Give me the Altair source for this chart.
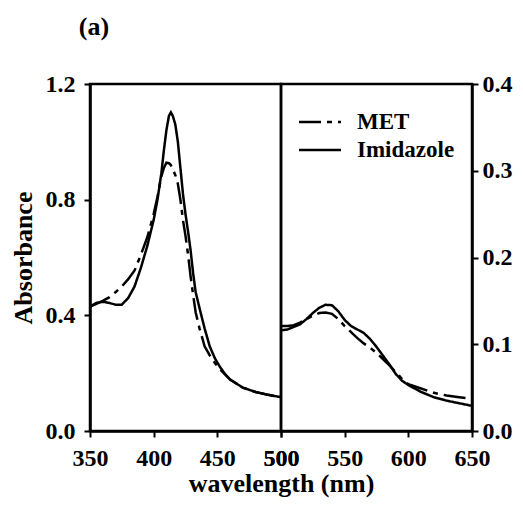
import altair as alt
import pandas as pd

# ---- data ----
wl_left = [350, 355, 360, 365, 370, 375, 380, 385, 390, 395, 400, 403, 406, 408, 410,
           412, 413.5, 415, 417, 419, 421, 423, 425, 427, 429, 431, 433, 436, 440, 444,
           448, 452, 456, 460, 470, 480, 490, 500]
met_left = [0.430, 0.440, 0.450, 0.462, 0.480, 0.500, 0.525, 0.555, 0.610, 0.670, 0.750,
            0.810, 0.880, 0.910, 0.928, 0.926, 0.920, 0.905, 0.885, 0.855, 0.800, 0.730,
            0.675, 0.610, 0.535, 0.470, 0.410, 0.355, 0.293, 0.262, 0.236, 0.214, 0.196,
            0.178, 0.150, 0.135, 0.125, 0.117]
imid_left = [0.430, 0.443, 0.447, 0.443, 0.437, 0.437, 0.460, 0.500, 0.565, 0.640, 0.730,
             0.800, 0.890, 0.970, 1.040, 1.090, 1.102, 1.090, 1.060, 1.000, 0.910, 0.820,
             0.750, 0.690, 0.625, 0.545, 0.480, 0.425, 0.355, 0.293, 0.252, 0.222, 0.197,
             0.178, 0.150, 0.135, 0.125, 0.117]

wl_right = [500, 505, 510, 515, 520, 525, 530, 535, 540, 545, 550, 555, 560, 565, 570,
            575, 580, 585, 590, 595, 600, 610, 620, 630, 640, 650]
met_right = [0.121, 0.121, 0.122, 0.125, 0.129, 0.133, 0.136, 0.1365, 0.135, 0.129, 0.121,
             0.114, 0.107, 0.101, 0.096, 0.090, 0.083, 0.076, 0.068, 0.060, 0.054, 0.049,
             0.044, 0.041, 0.039, 0.037]
imid_right = [0.116, 0.117, 0.120, 0.123, 0.129, 0.136, 0.142, 0.1455, 0.145, 0.138, 0.128,
              0.121, 0.117, 0.113, 0.106, 0.097, 0.087, 0.077, 0.066, 0.058, 0.053, 0.045,
              0.039, 0.035, 0.032, 0.029]

series = ["MET", "Imidazole"]
left_ticks = [350, 400, 450, 500]
right_ticks = [500, 550, 600, 650]
left_y_ticks = [0.0, 0.4, 0.8, 1.2]
right_y_ticks = [0.0, 0.1, 0.2, 0.3, 0.4]


def to_long(wl, met, imid):
    rows = []
    for w, v in zip(wl, met):
        rows.append({"wl": w, "abs": v, "series": "MET"})
    for w, v in zip(wl, imid):
        rows.append({"wl": w, "abs": v, "series": "Imidazole"})
    return pd.DataFrame(rows)


df_left = to_long(wl_left, met_left, imid_left)
df_right = to_long(wl_right, met_right, imid_right)

FONT = "Liberation Serif"
dash_scale = alt.Scale(domain=series, range=[[22, 6, 5, 6], [1, 0]])

left = alt.Chart(df_left).mark_line(color="black", strokeWidth=2.5, clip=True).encode(
    x=alt.X("wl:Q", scale=alt.Scale(domain=[350, 500], nice=False, zero=False),
            axis=alt.Axis(values=left_ticks, title="wavelength (nm)", titleX=191,
                          titleAlign="center", titlePadding=0)),
    y=alt.Y("abs:Q", scale=alt.Scale(domain=[0, 1.2], nice=False),
            axis=alt.Axis(values=left_y_ticks, format=".1f", title="Absorbance",
                          titlePadding=9)),
    strokeDash=alt.StrokeDash("series:N", scale=dash_scale, sort=series, legend=None),
).properties(width=191, height=347)

right = alt.Chart(df_right).mark_line(color="black", strokeWidth=2.5, clip=True).encode(
    x=alt.X("wl:Q", scale=alt.Scale(domain=[500, 650], nice=False, zero=False),
            axis=alt.Axis(values=right_ticks, title=None)),
    y=alt.Y("abs:Q", scale=alt.Scale(domain=[0, 0.4], nice=False),
            axis=alt.Axis(values=right_y_ticks, format=".1f", title=None, orient="right",
                          labelPadding=4)),
    strokeDash=alt.StrokeDash(
        "series:N", scale=dash_scale, sort=series,
        legend=alt.Legend(title=None, orient="none", legendX=27, legendY=26,
                          symbolType="M-2,0H2", symbolSize=441, symbolStrokeWidth=2.5,
                          symbolStrokeColor="black", symbolFillColor="transparent",
                          labelFont=FONT, labelFontSize=23,
                          labelFontWeight="bold", labelColor="black", labelOffset=25,
                          rowPadding=4)),
).properties(width=191, height=347)

chart = alt.hconcat(left, right, spacing=0, bounds="flush").resolve_scale(
    strokeDash="independent"
).properties(
    title=alt.Title("(a)", anchor="start", dx=70, offset=31, font=FONT, fontSize=26,
                    fontWeight="bold", color="black"),
    padding={"left": 0, "top": 5, "right": 0, "bottom": 5}
).configure_view(
    stroke="black", strokeWidth=2.5
).configure_axis(
    labelFont=FONT, labelFontSize=24, labelFontWeight="bold", labelColor="black",
    titleFont=FONT, titleFontSize=26, titleFontWeight="bold", titleColor="black",
    domainColor="black", domainWidth=2.5, tickColor="black", tickWidth=2, tickSize=6,
    grid=False, labelPadding=9, labelFlush=False
)

chart.save("out.html", embed_options={"renderer": "svg", "actions": False})
